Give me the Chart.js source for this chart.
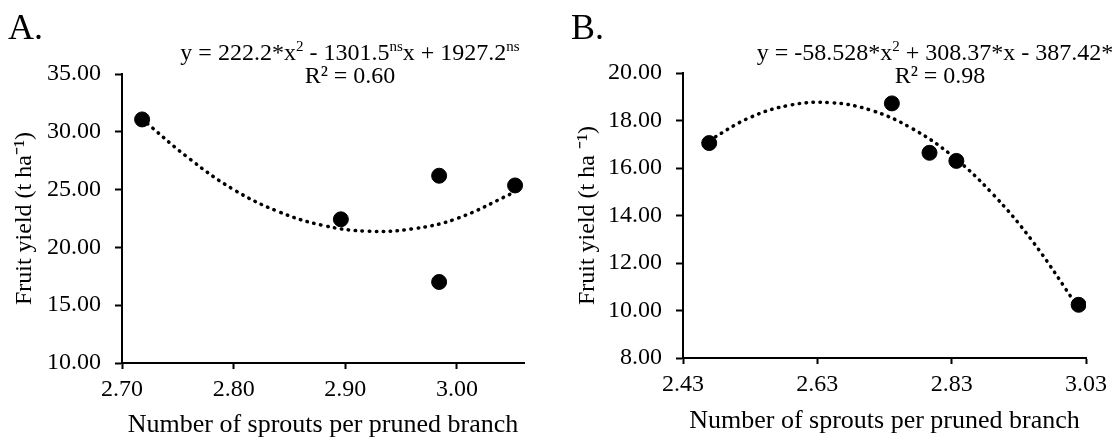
<!DOCTYPE html>
<html>
<head>
<meta charset="utf-8">
<script src="https://cdn.jsdelivr.net/npm/chart.js@4"></script>
<style>
  html, body { margin: 0; padding: 0; background: #fff; }
  #wrap { position: relative; width: 1114px; height: 441px; overflow: hidden; font-family: "Liberation Serif", "Times New Roman", serif; color: #000; }
  .panel { position: absolute; top: 0; width: 557px; height: 441px; }
  .txt { position: absolute; white-space: nowrap; line-height: 1; }
  .letter { font-size: 36px; }
  .eq { font-size: 24px; text-align: center; transform: translateX(-50%); }
  .eq sup { font-size: 15px; line-height: 0; vertical-align: 9px; }
</style>
</head>
<body>
<div id="wrap">
  <div class="panel" style="left:0"><canvas id="chartA" width="557" height="441"></canvas></div>
  <div class="panel" style="left:557px"><canvas id="chartB" width="557" height="441"></canvas></div>

  <div class="txt letter" style="left:8px; top:9px">A.</div>
  <div class="txt eq" style="left:350px; top:40px">y = 222.2*x<sup>2</sup> - 1301.5<sup>ns</sup>x + 1927.2<sup>ns</sup></div>
  <div class="txt eq" style="left:350px; top:63px">R² = 0.60</div>

  <div class="txt letter" style="left:571px; top:9px">B.</div>
  <div class="txt eq" style="left:935px; top:40px">y = -58.528*x<sup>2</sup> + 308.37*x - 387.42*</div>
  <div class="txt eq" style="left:940px; top:63px">R² = 0.98</div>
</div>

<script>
// === Panel A data ===
const sproutsA = [2.718, 2.896, 2.984, 2.984, 3.052];
const yieldA   = [31.07, 22.43, 26.20, 17.01, 25.36];
const trendXA  = [2.718, 2.76, 2.80, 2.84, 2.88, 2.92, 2.96, 3.00, 3.052];
const trendYA  = [31.1, 27.7, 25.0, 23.1, 21.9, 21.4, 21.6, 22.5, 24.8];
const xTicksA  = [2.70, 2.80, 2.90, 3.00];
const yTicksA  = [10, 15, 20, 25, 30, 35];

// === Panel B data ===
const sproutsB = [2.469, 2.741, 2.797, 2.837, 3.019];
const yieldB   = [17.05, 18.72, 16.64, 16.30, 10.24];
const trendXB  = [2.469, 2.53, 2.59, 2.65, 2.71, 2.77, 2.83, 2.89, 2.95, 3.019];
const trendYB  = [17.16, 18.13, 18.65, 18.75, 18.43, 17.68, 16.53, 14.94, 12.93, 10.10];
const xTicksB  = [2.43, 2.63, 2.83, 3.03];
const yTicksB  = [8, 10, 12, 14, 16, 18, 20];

const FONT = "'Liberation Serif', 'Times New Roman', serif";

// === Helper: pair up x / y arrays for scatter data ===
function pairs(xs, ys) {
  return xs.map((x, i) => ({ x: x, y: ys[i] }));
}

// === Build one panel ===
function makeChart(canvasId, cfg) {
  const ctx = document.getElementById(canvasId).getContext("2d");
  return new Chart(ctx, {
    type: "scatter",
    data: {
      datasets: [
        {
          type: "line",
          data: pairs(cfg.trendX, cfg.trendY),
          showLine: true,
          borderColor: "#000",
          borderWidth: 3.5,
          borderDash: [0.5, 6.5],
          borderCapStyle: "round",
          pointRadius: 0,
          tension: 0.4,
          fill: false
        },
        {
          data: pairs(cfg.xs, cfg.ys),
          backgroundColor: "#000",
          borderColor: "#000",
          pointRadius: 7.5,
          pointHoverRadius: 7.5
        }
      ]
    },
    options: {
      responsive: false,
      animation: false,
      devicePixelRatio: 1,
      layout: { padding: { top: cfg.padTop, right: cfg.padRight, left: 0, bottom: 0 } },
      plugins: { legend: { display: false }, tooltip: { enabled: false } },
      scales: {
        x: {
          type: "linear",
          min: cfg.xMin,
          max: cfg.xMax,
          afterBuildTicks: s => { s.ticks = cfg.xTicks.map(v => ({ value: v })); },
          afterFit: s => { s.height = cfg.xHeight; },
          grid: { drawOnChartArea: false, drawTicks: true, tickLength: 6, tickWidth: 2, color: "#000" },
          border: { display: true, color: "#000", width: 2 },
          ticks: {
            color: "#000",
            padding: 6,
            maxRotation: 0,
            font: { family: FONT, size: 24 },
            callback: v => Number(v).toFixed(2)
          },
          title: {
            display: true,
            text: "Number of sprouts per pruned branch",
            color: "#000",
            font: { family: FONT, size: 26 },
            padding: { top: 0, bottom: cfg.xTitlePad }
          }
        },
        y: {
          type: "linear",
          min: cfg.yMin,
          max: cfg.yMax,
          afterBuildTicks: s => { s.ticks = cfg.yTicks.map(v => ({ value: v })); },
          afterFit: s => { s.width = cfg.yWidth; },
          grid: { drawOnChartArea: false, drawTicks: true, tickLength: 7, tickWidth: 2, color: "#000" },
          border: { display: true, color: "#000", width: 2 },
          ticks: {
            color: "#000",
            padding: 14,
            font: { family: FONT, size: 24 },
            callback: v => Number(v).toFixed(2)
          },
          title: {
            display: true,
            text: cfg.yTitle,
            color: "#000",
            font: { family: FONT, size: 24 },
            padding: { top: cfg.yTitlePad, bottom: 0 }
          }
        }
      }
    }
  });
}

makeChart("chartA", {
  xs: sproutsA, ys: yieldA, trendX: trendXA, trendY: trendYA,
  xTicks: xTicksA, yTicks: yTicksA,
  xMin: 2.70, xMax: 3.06, yMin: 10, yMax: 35,
  padTop: 74, padRight: 33, xHeight: 78, yWidth: 122,
  xTitlePad: 0, yTitlePad: 10,
  yTitle: "Fruit yield (t ha\u207B\u00B9)"
});

makeChart("chartB", {
  xs: sproutsB, ys: yieldB, trendX: trendXB, trendY: trendYB,
  xTicks: xTicksB, yTicks: yTicksB,
  xMin: 2.43, xMax: 3.03, yMin: 8, yMax: 20,
  padTop: 73, padRight: 28, xHeight: 83, yWidth: 126,
  xTitlePad: 4, yTitlePad: 16,
  yTitle: "Fruit yield (t ha \u207B\u00B9)"
});
</script>
</body>
</html>
